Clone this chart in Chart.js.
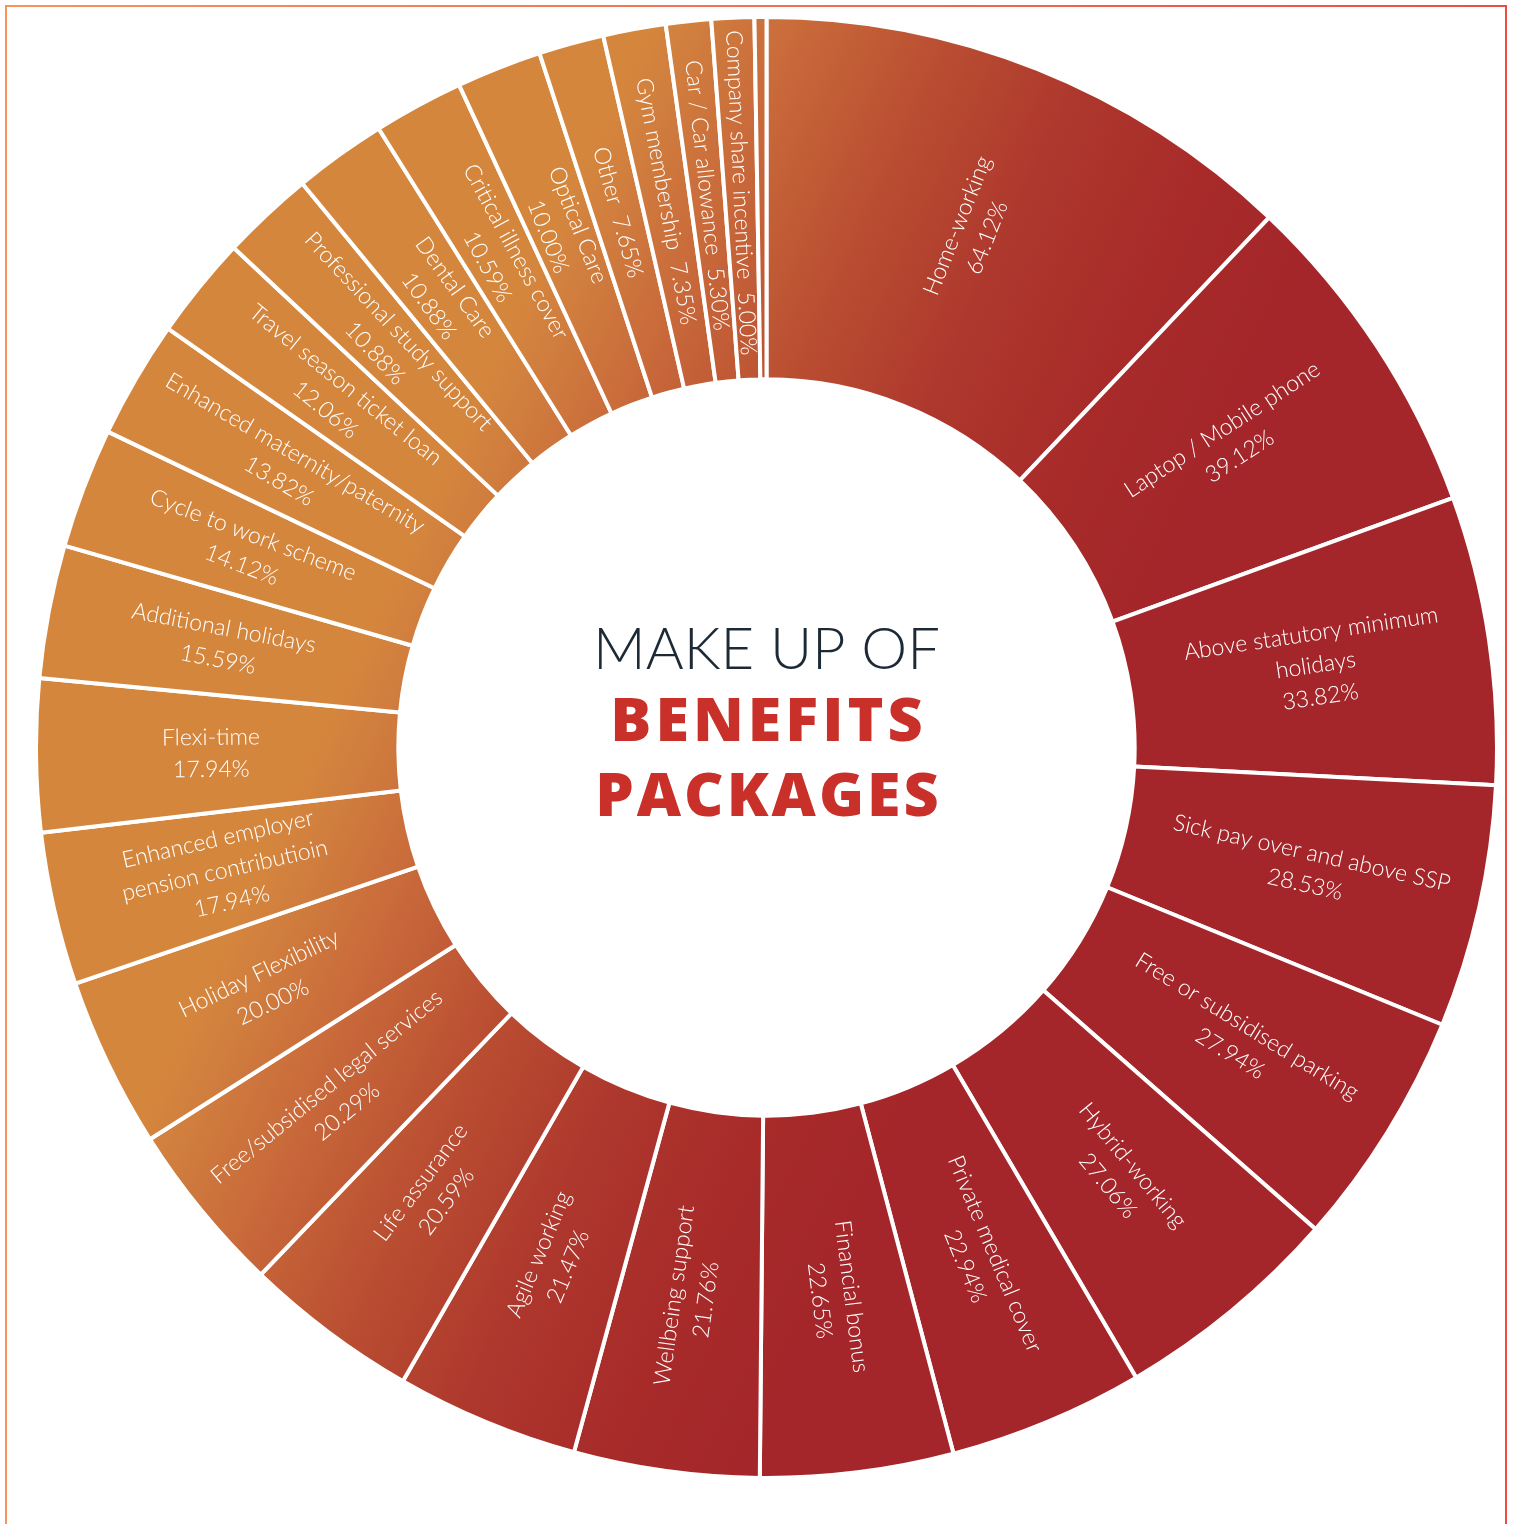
<!DOCTYPE html>
<html>
<head>
<meta charset="utf-8">
<title>Make up of benefits packages</title>
<script src="https://cdn.jsdelivr.net/npm/chart.js@4.4.0/dist/chart.umd.min.js"></script>
<style>
    body { margin: 0; background: #ffffff; }
    #frame {
        position: absolute; left: 5px; top: 5px; width: 1498px; height: 1540px;
        border: 2px solid; border-bottom: none;
        border-image: linear-gradient(to right, #f7935e, #ec4d43) 1;
    }
    #wrap { position: absolute; left: 34px; top: 15px; width: 1465px; height: 1465px; }
</style>
</head>
<body>
<div id="frame"></div>
<div id="wrap"><canvas id="doughnutChart"></canvas></div>
<script>
// benefits, clockwise from 12 o'clock
const categories = [
    'Home-working', 'Laptop / Mobile phone', 'Above statutory minimum\nholidays',
    'Sick pay over and above SSP', 'Free or subsidised parking', 'Hybrid-working',
    'Private medical cover', 'Financial bonus', 'Wellbeing support', 'Agile working',
    'Life assurance', 'Free/subsidised legal services', 'Holiday Flexibility',
    'Enhanced employer\npension contributioin', 'Flexi-time', 'Additional holidays',
    'Cycle to work scheme', 'Enhanced maternity/paternity', 'Travel season ticket loan',
    'Professional study support', 'Dental Care', 'Critical illness cover', 'Optical Care',
    'Other', 'Gym membership', 'Car / Car allowance', 'Company share incentive', ''
];
const values = [
    64.12, 39.12, 33.82, 28.53, 27.94, 27.06, 22.94, 22.65, 21.76, 21.47,
    20.59, 20.29, 20.00, 17.94, 17.94, 15.59, 14.12, 13.82, 12.06, 10.88,
    10.88, 10.59, 10.00, 7.65, 7.35, 5.30, 5.00, 1.40
];
const titleLines = ['MAKE UP OF', 'BENEFITS', 'PACKAGES'];

let gGradient = null;

//orange top-left fading to dark red bottom-right
function sliceFill(context) {
    const chart = context.chart;
    const area = chart.chartArea;
    if (!area) return '#c0582f';
    if (gGradient) return gGradient;
    const cx = (area.left + area.right) / 2;
    const cy = (area.top + area.bottom) / 2;
    const g = chart.ctx.createLinearGradient(cx - 372, cy - 172, cx + 263, cy + 122);
    g.addColorStop(0, '#d5863d');
    g.addColorStop(0.07, '#d07d3e');
    g.addColorStop(0.21, '#c8683a');
    g.addColorStop(0.40, '#b94d31');
    g.addColorStop(0.59, '#ae382d');
    g.addColorStop(0.80, '#a82b2a');
    g.addColorStop(1, '#a4262a');
    gGradient = g;
    return g;
}

//slice labels, written along the radius
const sliceLabels = {
    id: 'sliceLabels',
    afterDatasetsDraw(chart) {
        const ctx = chart.ctx;
        const meta = chart.getDatasetMeta(0);
        ctx.save();
        ctx.fillStyle = '#ffffff';
        ctx.font = '300 23px Lato';
        ctx.textAlign = 'center';
        ctx.textBaseline = 'middle';
        meta.data.forEach((arc, i) => {
            if (!categories[i]) return;
            const p = arc.getProps(['x', 'y', 'startAngle', 'endAngle', 'innerRadius', 'outerRadius'], true);
            const mid = (p.startAngle + p.endAngle) / 2;
            const r = (p.innerRadius + p.outerRadius) / 2 + 6;
            const pct = values[i].toFixed(2) + '%';
            let lines;
            if (values[i] < 8) {
                lines = [categories[i] + '  ' + pct];
            } else {
                lines = categories[i].split('\n').concat([pct]);
            }
            ctx.save();
            ctx.translate(p.x + Math.cos(mid) * r, p.y + Math.sin(mid) * r);
            ctx.rotate(Math.cos(mid) < 0 ? mid + Math.PI : mid);
            const lh = 32;
            lines.forEach((t, k) => {
                ctx.fillText(t, 0, (k - (lines.length - 1) / 2) * lh);
            });
            ctx.restore();
        });
        ctx.restore();
    }
};

//title in the hole
const centerTitle = {
    id: 'centerTitle',
    afterDatasetsDraw(chart) {
        const ctx = chart.ctx;
        const arc = chart.getDatasetMeta(0).data[0];
        const cx = arc.x, cy = arc.y;
        ctx.save();
        ctx.textAlign = 'center';
        ctx.textBaseline = 'alphabetic';
        ctx.fillStyle = '#1d2a35';
        ctx.font = '300 58px Lato';
        ctx.fillText(titleLines[0], cx, cy - 79);
        ctx.fillStyle = '#c9302a';
        ctx.font = '800 61px "Open Sans"';
        ctx.letterSpacing = '4px';
        ctx.fillText(titleLines[1], cx + 2, cy - 7);
        ctx.letterSpacing = '3px';
        ctx.fillText(titleLines[2], cx + 2, cy + 68);
        ctx.restore();
    }
};

const data = {
    labels: categories,
    datasets: [{
        data: values,
        backgroundColor: sliceFill,
        borderColor: '#ffffff',
        borderWidth: 4,
        hoverBorderWidth: 4
    }]
};

const config = {
    type: 'doughnut',
    data: data,
    options: {
        responsive: true,
        maintainAspectRatio: false,
        animation: false,
        cutout: '50.4%',
        layout: { padding: 0 },
        plugins: {
            legend: { display: false },
            tooltip: { enabled: false }
        }
    },
    plugins: [sliceLabels, centerTitle]
};

const ctx = document.getElementById('doughnutChart');
new Chart(ctx, config);
</script>
</body>
</html>
